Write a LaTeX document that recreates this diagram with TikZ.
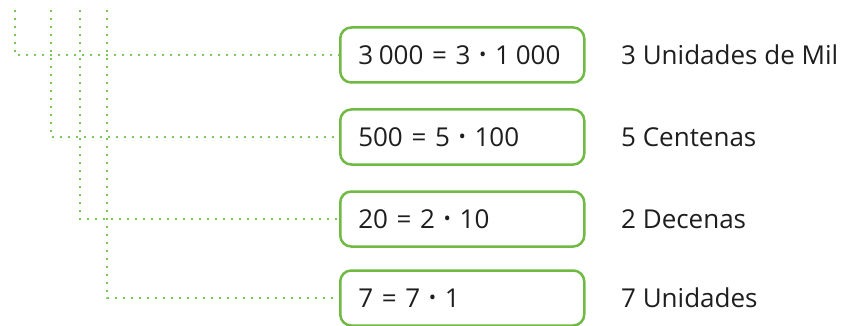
\documentclass[tikz,border=0pt]{standalone}
\usepackage{fontspec}
\setmainfont{Open Sans}
\definecolor{boxgreen}{RGB}{112,186,68}
\definecolor{dotgreen}{RGB}{120,200,90}
\definecolor{txt}{RGB}{30,30,30}
\newcommand{\mydot}{\raisebox{0.12em}{\scalebox{0.75}{\textbullet}}}
\newcommand{\ths}{\hspace{0.22em}}
\begin{document}
\begin{tikzpicture}[x=1pt,y=-1pt,
  numbox/.style={draw=boxgreen,line width=2.5pt,rounded corners=11pt,minimum width=244pt,minimum height=55pt,text width=208pt,align=left,inner sep=0pt,font=\fontsize{26}{29}\selectfont,text=txt,anchor=west},
  lbl/.style={anchor=west,inner sep=0pt,font=\fontsize{26}{29}\selectfont,text=txt},
  dotline/.style={dotgreen,line width=1.9pt,dash pattern=on 1.9pt off 6.1pt}]
\useasboundingbox (0,0) rectangle (853,326);
\node[numbox] (b1) at (339,55) {3\ths000 = 3 \mydot{} 1\ths000};
\node[numbox] (b2) at (339,137) {500 = 5 \mydot{} 100};
\node[numbox] (b3) at (339,219) {20 = 2 \mydot{} 10};
\node[numbox] (b4) at (339,298) {7 = 7 \mydot{} 1};
\node[lbl] (l1) at (621,55) {3 Unidades de Mil};
\node[lbl] (l2) at (621,137) {5 Centenas};
\node[lbl] (l3) at (621,219) {2 Decenas};
\node[lbl] (l4) at (621,298) {7 Unidades};
\coordinate (t1) at (15,10);
\coordinate (t2) at (51,10);
\coordinate (t3) at (80,10);
\coordinate (t4) at (107,10);
\draw[dotline] (t1) |- (b1.west);
\draw[dotline] (t2) |- (b2.west);
\draw[dotline] (t3) |- (b3.west);
\draw[dotline] (t4) |- (b4.west);
\end{tikzpicture}
\end{document}
